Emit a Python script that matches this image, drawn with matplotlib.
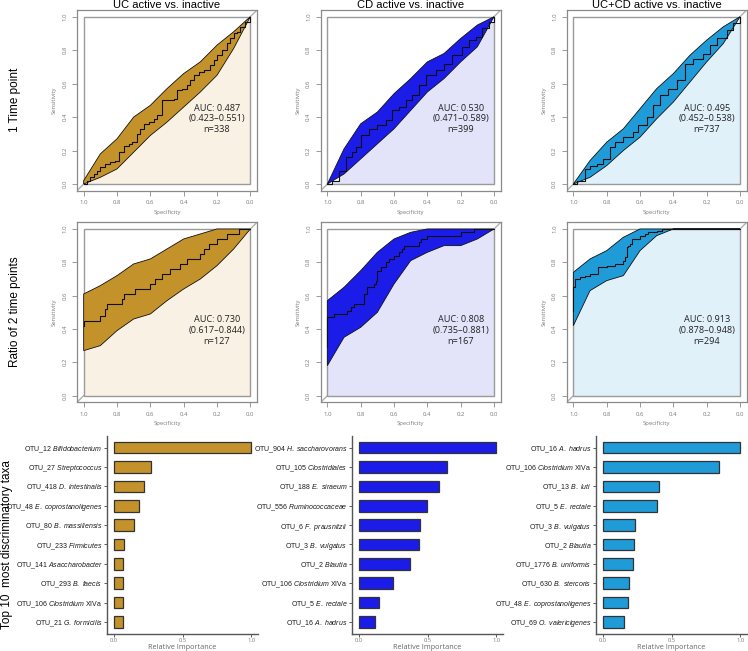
import matplotlib
matplotlib.use("Agg")
import matplotlib.pyplot as plt
from matplotlib.patches import Rectangle, Polygon
from matplotlib import font_manager

plt.rcParams['font.family'] = ['Liberation Sans', 'DejaVu Sans']


def has_font(name):
    try:
        font_manager.findfont(name, fallback_to_default=False)
        return True
    except Exception:
        return False


NARROW = 'Liberation Sans Narrow' if has_font('Liberation Sans Narrow') else None
label_family = NARROW if NARROW else 'Liberation Sans'
label_size = 5.9 if NARROW else 5.0

plt.rcParams['mathtext.fontset'] = 'custom'
plt.rcParams['mathtext.rm'] = label_family
plt.rcParams['mathtext.it'] = label_family + ':italic'
plt.rcParams['mathtext.bf'] = label_family + ':bold'

# ---------------- data ----------------
col_titles = ["UC active vs. inactive", "CD active vs. inactive", "UC+CD active vs. inactive"]
row_labels = ["1 Time point", "Ratio of 2 time points", "Top 10  most discriminatory taxa"]

band_spec = [1.0, 0.9, 0.8, 0.7, 0.6, 0.5, 0.4, 0.3, 0.2, 0.1, 0.0]

# Row 1: single time point
uc1_spec = [1.00, 0.98, 0.96, 0.94, 0.92, 0.90, 0.87, 0.84, 0.81, 0.79, 0.76, 0.73, 0.71, 0.68, 0.66, 0.64,
            0.61, 0.58, 0.56, 0.53, 0.49, 0.46, 0.44, 0.41, 0.38, 0.36, 0.34, 0.31, 0.28, 0.24, 0.22, 0.20,
            0.17, 0.14, 0.12, 0.10, 0.08, 0.06, 0.03, 0.00]
uc1_sens = [0.00, 0.02, 0.04, 0.06, 0.08, 0.10, 0.12, 0.13, 0.14, 0.19, 0.23, 0.24, 0.25, 0.30, 0.33, 0.36,
            0.37, 0.39, 0.41, 0.50, 0.50, 0.51, 0.56, 0.57, 0.59, 0.62, 0.65, 0.67, 0.68, 0.71, 0.74, 0.77,
            0.80, 0.84, 0.87, 0.90, 0.91, 0.94, 0.97, 1.00]
uc1_upper = [0.02, 0.18, 0.27, 0.40, 0.47, 0.57, 0.66, 0.73, 0.83, 0.91, 1.00]
uc1_lower = [0.00, 0.04, 0.09, 0.19, 0.29, 0.37, 0.46, 0.55, 0.65, 0.81, 1.00]

cd1_spec = [1.00, 0.97, 0.93, 0.89, 0.85, 0.83, 0.80, 0.75, 0.70, 0.65, 0.61, 0.57, 0.53, 0.49, 0.45,
            0.41, 0.35, 0.30, 0.25, 0.19, 0.15, 0.11, 0.07, 0.03, 0.00]
cd1_sens = [0.00, 0.02, 0.08, 0.16, 0.19, 0.22, 0.29, 0.33, 0.35, 0.38, 0.44, 0.46, 0.50, 0.53, 0.59,
            0.65, 0.68, 0.72, 0.77, 0.82, 0.86, 0.88, 0.93, 0.97, 1.00]
cd1_upper = [0.00, 0.21, 0.36, 0.43, 0.54, 0.63, 0.73, 0.78, 0.87, 0.95, 1.00]
cd1_lower = [0.00, 0.06, 0.15, 0.24, 0.33, 0.44, 0.55, 0.63, 0.73, 0.82, 1.00]

all1_spec = [1.00, 0.98, 0.93, 0.90, 0.86, 0.82, 0.78, 0.75, 0.70, 0.64, 0.61, 0.56, 0.52, 0.48, 0.43,
             0.38, 0.33, 0.28, 0.22, 0.18, 0.14, 0.08, 0.04, 0.00]
all1_sens = [0.00, 0.02, 0.09, 0.11, 0.12, 0.15, 0.22, 0.25, 0.28, 0.31, 0.35, 0.40, 0.47, 0.53, 0.57,
             0.62, 0.72, 0.75, 0.78, 0.83, 0.87, 0.92, 0.96, 1.00]
all1_upper = [0.00, 0.14, 0.25, 0.33, 0.45, 0.57, 0.66, 0.77, 0.86, 0.94, 1.00]
all1_lower = [0.00, 0.04, 0.11, 0.20, 0.28, 0.39, 0.49, 0.61, 0.73, 0.84, 1.00]

# Row 2: ratio of two time points
uc2_spec = [1.00, 1.00, 0.90, 0.87, 0.86, 0.77, 0.76, 0.69, 0.60, 0.57, 0.53, 0.48, 0.42, 0.38, 0.30,
            0.28, 0.25, 0.20, 0.14, 0.07, 0.00]
uc2_sens = [0.42, 0.45, 0.48, 0.52, 0.55, 0.58, 0.61, 0.64, 0.67, 0.70, 0.73, 0.76, 0.79, 0.82, 0.85,
            0.88, 0.91, 0.94, 0.97, 1.00, 1.00]
uc2_upper = [0.61, 0.66, 0.72, 0.79, 0.82, 0.88, 0.94, 0.97, 1.00, 1.00, 1.00]
uc2_lower = [0.27, 0.30, 0.39, 0.46, 0.49, 0.57, 0.64, 0.70, 0.78, 0.88, 1.00]

cd2_spec = [1.00, 1.00, 0.96, 0.88, 0.86, 0.84, 0.78, 0.76, 0.72, 0.71, 0.70, 0.68, 0.65, 0.63, 0.60,
            0.57, 0.55, 0.54, 0.45, 0.44, 0.40, 0.20, 0.12, 0.00]
cd2_sens = [0.29, 0.47, 0.49, 0.51, 0.53, 0.55, 0.61, 0.65, 0.67, 0.69, 0.75, 0.77, 0.80, 0.82, 0.84,
            0.86, 0.88, 0.90, 0.92, 0.94, 0.96, 0.98, 1.00, 1.00]
cd2_upper = [0.57, 0.65, 0.75, 0.86, 0.94, 0.98, 1.00, 1.00, 1.00, 1.00, 1.00]
cd2_lower = [0.18, 0.35, 0.41, 0.50, 0.67, 0.81, 0.86, 0.90, 0.90, 0.94, 1.00]

all2_spec = [1.00, 1.00, 0.99, 0.96, 0.93, 0.90, 0.85, 0.80, 0.75, 0.70, 0.69, 0.68, 0.67, 0.66, 0.65,
             0.60, 0.57, 0.55, 0.50, 0.47, 0.00]
all2_sens = [0.51, 0.65, 0.70, 0.71, 0.72, 0.73, 0.77, 0.78, 0.79, 0.81, 0.83, 0.89, 0.90, 0.91, 0.94,
             0.96, 0.97, 0.98, 0.99, 1.00, 1.00]
all2_upper = [0.74, 0.82, 0.87, 0.95, 1.00, 1.00, 1.00, 1.00, 1.00, 1.00, 1.00]
all2_lower = [0.42, 0.63, 0.69, 0.72, 0.87, 0.96, 1.00, 1.00, 1.00, 1.00, 1.00]

auc_texts = [["AUC: 0.487\n(0.423\u20130.551)\nn=338",
              "AUC: 0.530\n(0.471\u20130.589)\nn=399",
              "AUC: 0.495\n(0.452\u20130.538)\nn=737"],
             ["AUC: 0.730\n(0.617\u20130.844)\nn=127",
              "AUC: 0.808\n(0.735\u20130.881)\nn=167",
              "AUC: 0.913\n(0.878\u20130.948)\nn=294"]]

# Row 3: top 10 taxa (top to bottom); *...* marks italic
uc_taxa = ["OTU_12 *Bifidobacterium*", "OTU_27 *Streptococcus*", "OTU_418 *D. intestinalis*",
           "OTU_48 *E. coprostanoligenes*", "OTU_80 *B. massiliensis*", "OTU_233 *Firmicutes*",
           "OTU_141 *Asaccharobacter*", "OTU_293 *B. faecis*", "OTU_106 *Clostridium* XIVa",
           "OTU_21 *G. formicilis*"]
uc_imp = [1.0, 0.27, 0.22, 0.18, 0.147, 0.072, 0.07, 0.068, 0.063, 0.063]

cd_taxa = ["OTU_904 *H. saccharovorans*", "OTU_105 *Clostridiales*", "OTU_188 *E. siraeum*",
           "OTU_556 *Ruminococcaceae*", "OTU_6 *F. prausnitzii*", "OTU_3 *B. vulgatus*",
           "OTU_2 *Blautia*", "OTU_106 *Clostridium* XIVa", "OTU_5 *E. rectale*", "OTU_16 *A. hadrus*"]
cd_imp = [1.0, 0.643, 0.583, 0.494, 0.448, 0.439, 0.374, 0.246, 0.147, 0.116]

all_taxa = ["OTU_16 *A. hadrus*", "OTU_106 *Clostridium* XIVa", "OTU_13 *B. luti*", "OTU_5 *E. rectale*",
            "OTU_3 *B. vulgatus*", "OTU_2 *Blautia*", "OTU_1776 *B. uniformis*", "OTU_630 *B. stercoris*",
            "OTU_48 *E. coprostanoligenes*", "OTU_69 *O. valericigenes*"]
all_imp = [1.0, 0.847, 0.407, 0.392, 0.237, 0.230, 0.216, 0.191, 0.184, 0.155]

imp_ticks = [0.0, 0.5, 1.0]
roc_ticks = [0.0, 0.2, 0.4, 0.6, 0.8, 1.0]

# ---------------- style ----------------
dark_cols = ["#C4922A", "#1C1CE8", "#1F9BD8"]
light_cols = ["#FAF1E5", "#E3E3FA", "#E1F1FA"]
grey_txt = "#7A7A7A"
small_fam = ['Open Sans', 'DejaVu Sans']

W, H = 748, 651
fig = plt.figure(figsize=(W / 100, H / 100), dpi=100)


def ax_px(l, t, r, b):
    return fig.add_axes([l / W, 1 - b / H, (r - l) / W, (b - t) / H])


col_x = [(77, 257), (320.7, 500.7), (566.7, 746.7)]
row_y = [(10, 190.7), (222.3, 402.3)]

roc_data = [
    [(uc1_spec, uc1_sens, uc1_upper, uc1_lower), (cd1_spec, cd1_sens, cd1_upper, cd1_lower),
     (all1_spec, all1_sens, all1_upper, all1_lower)],
    [(uc2_spec, uc2_sens, uc2_upper, uc2_lower), (cd2_spec, cd2_sens, cd2_upper, cd2_lower),
     (all2_spec, all2_sens, all2_upper, all2_lower)],
]

for r in range(2):
    for c in range(3):
        l, rr = col_x[c]
        t, b = row_y[r]
        ax = ax_px(l, t, rr, b)
        spec, sens, up, lo = roc_data[r][c]
        ax.set_xlim(1.04, -0.04)
        ax.set_ylim(-0.04, 1.04)
        # diagonal (drawn first, covered by the fills)
        ax.axline((1, 0), (0, 1), color="#B0B0B0", lw=1.0, zorder=0.5)
        # area under curve
        ax.fill_between(spec, sens, 0, step='post', color=light_cols[c], lw=0, zorder=1)
        # inner square outline
        ax.add_patch(Rectangle((0, 0), 1, 1, fill=False, ec="#9A9A9A", lw=1.0, zorder=2))
        # CI band
        poly = list(zip(band_spec, up)) + list(zip(band_spec[::-1], lo[::-1]))
        ax.add_patch(Polygon(poly, closed=True, fc=dark_cols[c], ec="#111111", lw=0.6, zorder=3))
        # ROC curve
        ax.plot(spec, sens, drawstyle='steps-post', color="#111111", lw=0.8, zorder=4)
        ax.text(0.2, 0.39, auc_texts[r][c], ha='center', va='center', fontsize=6.6,
                family=small_fam, color="#222222", linespacing=1.25, zorder=5)
        for s in ax.spines.values():
            s.set_color("#8A8A8A")
            s.set_linewidth(0.9)
        ax.set_xticks(roc_ticks)
        ax.set_yticks(roc_ticks)
        ax.set_xticklabels([f"{v:.1f}" for v in roc_ticks], fontsize=4.3, color=grey_txt, family=small_fam)
        ax.set_yticklabels([f"{v:.1f}" for v in roc_ticks], fontsize=4.3, color=grey_txt,
                           rotation=90, va='center', family=small_fam)
        ax.tick_params(length=3.5, width=0.6, color="#8A8A8A", pad=3.5)
        ax.set_xlabel("Specificity", fontsize=4.2, color=grey_txt, labelpad=3, family=small_fam)
        ax.set_ylabel("Sensitivity", fontsize=4.2, color=grey_txt, labelpad=4, family=small_fam)
        if r == 0:
            ax.set_title(col_titles[c], fontsize=8, pad=1.5)


def to_math(lbl):
    parts = lbl.split("*")
    out = ""
    for i, p in enumerate(parts):
        if not p:
            continue
        if i % 2 == 1:
            out += r"$\it{" + p.replace(" ", r"\ ") + "}$"
        else:
            out += p
    return out


bar_cols = [(107, 258), (352, 503), (596, 747)]
bar_data = [(uc_taxa, uc_imp), (cd_taxa, cd_imp), (all_taxa, all_imp)]
for c in range(3):
    l, rr = bar_cols[c]
    ax = ax_px(l, 436, rr, 633.5)
    taxa, imp = bar_data[c]
    n = len(taxa)
    ypos = list(range(n, 0, -1))
    ax.barh(ypos, imp, height=0.6, color=dark_cols[c], edgecolor="#333333", linewidth=0.9)
    ax.set_xlim(-0.05, 1.05)
    ax.set_ylim(0.4, n + 0.6)
    ax.set_yticks(ypos)
    ax.set_yticklabels([to_math(t) for t in taxa], fontsize=label_size, color="#1A1A1A",
                       family=label_family)
    ax.set_xticks(imp_ticks)
    ax.set_xticklabels([f"{v:.1f}" for v in imp_ticks], fontsize=4.2, color=grey_txt, family=small_fam)
    ax.tick_params(axis='both', length=2, width=0.6, color="#444444", pad=1.2)
    ax.set_xlabel("Relative Importance", fontsize=5.2, color="#666666", labelpad=0.8, family=small_fam)
    for side in ['top', 'right']:
        ax.spines[side].set_visible(False)
    for side in ['left', 'bottom']:
        ax.spines[side].set_color("#555555")
        ax.spines[side].set_linewidth(1.0)

# Row labels
fig.text(15 / W, 1 - 100 / H, row_labels[0], rotation=90, ha='center', va='center', fontsize=8.5)
fig.text(15 / W, 1 - 312 / H, row_labels[1], rotation=90, ha='center', va='center', fontsize=8.5)
fig.text(7 / W, 1 - 545 / H, row_labels[2], rotation=90, ha='center', va='center', fontsize=8.5)

fig.savefig("out.png", dpi=100)
